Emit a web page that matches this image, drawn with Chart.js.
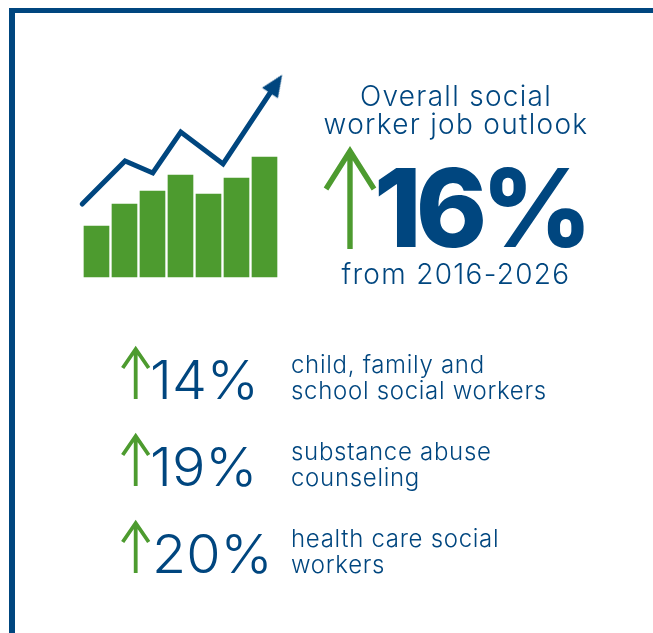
<!DOCTYPE html>
<html>
<head>
<meta charset="utf-8">
<title>Social worker job outlook</title>
<script src="https://cdn.jsdelivr.net/npm/chart.js@4"></script>
<style>
  html, body { margin: 0; padding: 0; background: #fff; }
  body { width: 653px; height: 633px; position: relative; overflow: hidden; font-family: Inter, sans-serif; color: #00467f; }
  #frame { position: absolute; left: 9px; top: 8px; right: 0; bottom: 0; border-top: 5px solid #00467f; border-left: 6px solid #00467f; }
  #chart { position: absolute; left: 70px; top: 60px; }
  #arrows { position: absolute; left: 0; top: 0; }
  .t { position: absolute; white-space: pre; line-height: 1; }
  .head { font-size: 28px; font-weight: 300; letter-spacing: 1.3px; width: 400px; text-align: center; }
  .big { font-size: 108px; font-weight: 800; letter-spacing: -6px; }
  .pct { font-size: 54px; font-weight: 300; transform: scaleX(1.03); transform-origin: left; }
  .lab { font-size: 24px; font-weight: 300; letter-spacing: 0.7px; line-height: 26px; }
</style>
</head>
<body>
<div id="frame"></div>
<canvas id="chart" width="220" height="230"></canvas>
<svg id="arrows" width="653" height="633"></svg>
<div id="texts"></div>
<script>
// bars of the little icon chart (no axis in the picture, heights read in pixels)
const barX = [0, 1, 2, 3, 4, 5, 6];
const barValues = [51, 73, 86, 102, 83, 99, 120];

// rising line over the bars, last point is the arrow head
const trendX = [-0.51, 1.02, 2.01, 3.01, 4.52, 6.34];
const trendY = [73, 116, 104, 145, 113, 190];

const headline = ["Overall social", "worker job outlook"];
const overall = 16;
const period = "from 2016-2026";
const groupPct = [14, 19, 20];
const groupLabels = [
  ["child, family and", "school social workers"],
  ["substance abuse", "counseling"],
  ["health care social", "workers"]
];

const BLUE = "#00467f";
const GREEN = "#4d9b2f";

// arrow head is narrower than the built-in triangle, so make our own
const head = document.createElement("canvas");
head.width = 20;
head.height = 30;
const hc = head.getContext("2d");
hc.fillStyle = BLUE;
hc.beginPath();
hc.moveTo(10, 0.3);
hc.lineTo(19.5, 22.3);
hc.lineTo(0.5, 22.3);
hc.closePath();
hc.fill();

const last = trendX.length - 1;
new Chart(document.getElementById("chart"), {
  data: {
    datasets: [
      {
        type: "line",
        data: trendX.map((x, i) => ({ x: x, y: trendY[i] })),
        borderColor: BLUE,
        borderWidth: 5,
        borderCapStyle: "round",
        borderJoinStyle: "miter",
        tension: 0,
        pointStyle: c => c.dataIndex === last ? head : "circle",
        pointRadius: c => c.dataIndex === last ? 10 : 0,
        pointRotation: 33.6,
        order: 0
      },
      {
        type: "bar",
        data: barX.map((x, i) => ({ x: x, y: barValues[i] })),
        backgroundColor: GREEN,
        barThickness: 25,
        order: 1
      }
    ]
  },
  options: {
    responsive: false,
    animation: false,
    layout: { padding: 0, autoPadding: false },
    plugins: { legend: { display: false }, tooltip: { enabled: false } },
    scales: {
      // offset off, otherwise the bar defaults widen the linear range
      x: { type: "linear", offset: false, min: -0.946, max: 6.911, display: false },
      y: { min: -13, max: 217, display: false }
    }
  }
});

// text
const texts = document.getElementById("texts");
function addText(str, cls, left, top) {
  const el = document.createElement("div");
  el.className = "t " + cls;
  el.textContent = str;
  el.style.left = left + "px";
  el.style.top = top + "px";
  texts.appendChild(el);
}

addText(headline.join("\n"), "head", 256, 82);
addText(overall + "%", "big", 374, 154);
addText(period, "head", 256, 260);

const pctTop = [353, 440, 527];
const pctLeft = [150, 150, 152];
const labelTop = [352, 439, 526];
groupPct.forEach((p, i) => {
  addText(p + "%", "pct", pctLeft[i], pctTop[i]);
  addText(groupLabels[i].join("\n"), "lab", 291, labelTop[i]);
});

// green up arrows next to the percentages
const svg = document.getElementById("arrows");
function upArrow(x, tip, bottom, wing, drop, w) {
  const p = document.createElementNS("http://www.w3.org/2000/svg", "path");
  p.setAttribute("d", `M${x} ${bottom}V${tip + 2}M${x - wing} ${tip + drop}L${x} ${tip + 2}L${x + wing} ${tip + drop}`);
  p.setAttribute("fill", "none");
  p.setAttribute("stroke", GREEN);
  p.setAttribute("stroke-width", w);
  svg.appendChild(p);
}
upArrow(350, 149, 249, 24, 40, 5.4);
upArrow(135.7, 347, 399, 13, 21, 3.8);
upArrow(135.7, 434, 486, 13, 21, 3.8);
upArrow(135.7, 521, 573, 13, 21, 3.8);
</script>
</body>
</html>
